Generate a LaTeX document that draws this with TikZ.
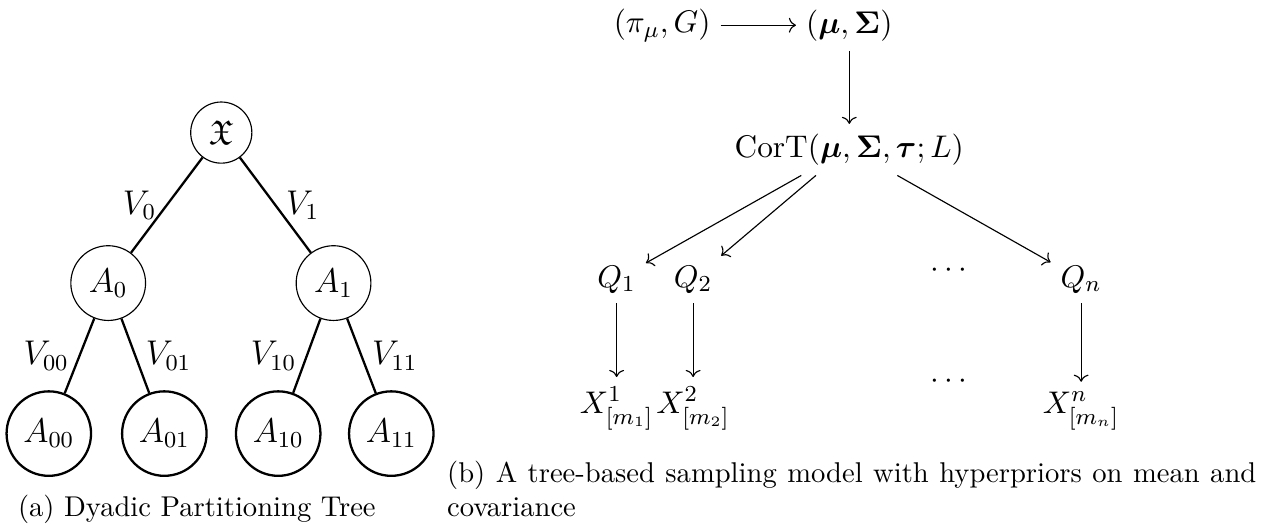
\documentclass[tikz,border=0pt]{standalone}
\usepackage{amsmath}
\usepackage{amssymb}
\usepackage{bm}
\usepackage{tikz}
\usetikzlibrary{arrows.meta, positioning}
\tikzset{
	tnode/.style={circle, draw=black, font=\large, inner sep=0.333em},
	tleaf/.style={tnode, thick},
	tedge/.style={thick},
	vlbl/.style={font=\large, midway},
	mnode/.style={font=\fontsize{11}{13}\selectfont},
	arr/.style={->},
	caption/.style={inner sep=0pt},
}

\begin{document}
\begin{tikzpicture}
	\useasboundingbox (0,0) rectangle (15.71,6.50);
	% (a) dyadic partitioning tree
	\node[tnode] (root) at (2.72,4.87) {$\mathfrak{X}$};
	\node[tnode] (A0) at (1.33,3.02) {$A_0$};
	\node[tnode] (A1) at (4.10,3.02) {$A_1$};
	\node[tleaf] (A00) at (0.60,1.17) {$A_{00}$};
	\node[tleaf] (A01) at (2.02,1.17) {$A_{01}$};
	\node[tleaf] (A10) at (3.42,1.17) {$A_{10}$};
	\node[tleaf] (A11) at (4.81,1.17) {$A_{11}$};
	\draw[tedge] (root) -- node[vlbl, left] {$V_0$} (A0);
	\draw[tedge] (root) -- node[vlbl, right] {$V_1$} (A1);
	\draw[tedge] (A0) -- node[vlbl, left] {$V_{00}$} (A00);
	\draw[tedge] (A0) -- node[vlbl, right] {$V_{01}$} (A01);
	\draw[tedge] (A1) -- node[vlbl, left] {$V_{10}$} (A10);
	\draw[tedge] (A1) -- node[vlbl, right] {$V_{11}$} (A11);
	\node[caption, anchor=base] (capa) at (2.42,0.147) {(a) Dyadic Partitioning Tree};

	% (b) sampling model
	\node[mnode] (prior) at (8.14,6.19) {$(\pi_\mu, G)$};
	\node[mnode] (musig) at (10.44,6.19) {$(\bm{\mu}, \bm{\Sigma})$};
	\node[mnode] (cort) at (10.44,4.66) {$\mathrm{CorT}(\bm{\mu}, \bm{\Sigma}, \bm{\tau}; L)$};
	\node[mnode, anchor=base] (Q1) at (7.58,2.97) {$Q_1$};
	\node[mnode, anchor=base] (Q2) at (8.52,2.97) {$Q_2$};
	\node[mnode] (qdots) at (11.70,3.17) {$\cdots$};
	\node[mnode, anchor=base] (Qn) at (13.29,2.97) {$Q_n$};
	\node[mnode, anchor=base] (X1) at (7.58,1.42) {$X^1_{[m_1]}$};
	\node[mnode, anchor=base] (X2) at (8.52,1.42) {$X^2_{[m_2]}$};
	\node[mnode] (xdots) at (11.70,1.81) {$\cdots$};
	\node[mnode, anchor=base] (Xn) at (13.29,1.42) {$X^n_{[m_n]}$};
	\draw[arr] (prior) -- (musig);
	\draw[arr] (musig) -- (cort);
	\draw[arr] ([xshift=-0.59cm]cort.south) -- (Q1);
	\draw[arr] ([xshift=-0.41cm]cort.south) -- (Q2);
	\draw[arr] ([xshift=0.59cm]cort.south) -- (Qn);
	\draw[arr] (Q1) -- (X1);
	\draw[arr] (Q2) -- (X2);
	\draw[arr] (Qn) -- (Xn);
	\node[caption, anchor=north west, text width=283pt, align=justify] (capb) at (5.49,0.84)
		{(b) A tree-based sampling model with hyperpriors on mean and covariance};
\end{tikzpicture}
\end{document}
